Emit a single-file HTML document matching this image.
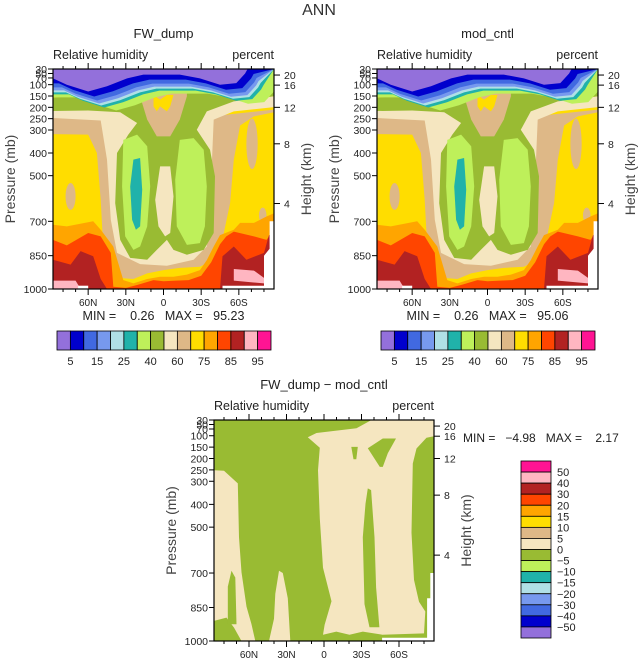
<!DOCTYPE html>
<html><head><meta charset="utf-8"><style>
html,body{margin:0;padding:0;background:#fff;}
svg{display:block;font-family:"Liberation Sans",sans-serif;}
text{white-space:pre;}
</style></head><body>
<svg id="chart" width="638" height="659" viewBox="0 0 638 659" xmlns="http://www.w3.org/2000/svg"></svg>
<script>
// ---- data ----
const pLevels=[30,100,150,200,250,300,400,500,700,850,1000];
const pLabels=[30,50,70,100,150,200,250,300,400,500,700,850,1000];
const latTicks=[60,30,0,-30,-60];
const latTickLabels=['60N','30N','0','30S','60S'];
const heightTicks=[20,16,12,8,4];
const heightTickP=[57,102,200,360,622];
const rhColors=['#9370db','#0000cd','#4169e1','#7799ee','#b0e0e6','#20b2aa','#bef05a','#99bb33','#f5e6c0','#deb887','#ffdd00','#ffa500','#ff4500','#b22222','#ffb6c1','#ff1493'];
const rhLevelLabels=['5','15','25','40','60','75','85','95'];
const diffLevelLabels=['50','40','30','20','15','10','5','0','\u22125','\u221210','\u221215','\u221220','\u221230','\u221240','\u221250'];
const statsTopLeft=[0.26,95.23];
const statsTopRight=[0.26,95.06];
const statsDiff=[-4.98,2.17];
// RH contour regions [lat, p]
const rhTan=[[88,225],[50,210],[13,254],[-13,254],[-88,210],[-88,222],[-72,240],[-61,280],[-56,429],[-53,620],[-48,751],[-40,868],[-29,900],[-13,905],[0,915],[13,930],[24,955],[35,950],[42,900],[48,810],[50,606],[53,400],[60,320],[88,318]];
const rhWheat=[[88,188],[24,196],[-18.6,196],[-88,151],[-88,199],[-56,218],[-40,254],[-37,635],[-34.5,810],[-24,868],[-2.7,895],[18.6,888],[37,838],[42,693],[45,429],[50,258],[88,247]];
const rhOlive=[[88,158],[50,137],[24,115],[18.6,90],[-18.6,90],[-26.5,107],[-56,115],[-88,100],[-88,151],[-56,174],[-34.5,218],[-26.5,299],[-37,386],[-41,503],[-40,751],[-32,825],[-18.6,846],[-8,825],[-2.7,781],[5.3,825],[13,868],[26.5,860],[34.5,781],[38.5,620],[37,400],[28,320],[21,269],[34.5,222],[60,214],[88,216]];
const rhTanCap=[[18.6,90],[-18.6,90],[-18.6,151],[-13,254],[-5.3,328],[5.3,328],[13,254],[18.6,151]];
const rhYellowCap=[[8,145],[2.7,166],[-2.7,145],[-8,145],[-5.3,196],[-2.7,218],[2.7,196],[5.3,218],[8,196]];
const rhWheatColumn=[[2.7,459],[-5.3,459],[-8,591],[-5.3,751],[-1.3,766],[4,722],[6.6,606]];
const rhLightLeft=[[32,343],[21,320],[13,371],[10.6,547],[13,722],[18.6,810],[24,825],[30.5,766],[33,547]];
const rhLightRight=[[-13,343],[-24,335],[-32,386],[-34.5,547],[-33,722],[-29,795],[-18.6,803],[-10.6,722],[-9.3,518]];
const rhTeal=[[24,429],[18.6,422],[17,562],[18.6,722],[22,737],[25,693],[26.5,547]];
const rhTanOvals=[[78,70,532,650],[-66,-75,250,471],[-76,-82,640,707]];
const rhCapCurve=[[88,72],[77,100],[60,130],[45,107],[29,72],[16,55],[-13,55],[-29,72],[-45,100],[-58,93],[-65,50],[-67,30]];
const rhOrange=[[88,715],[77,722],[56,700],[50,737],[40,810],[32,960],[24,975],[13,955],[2.7,945],[-8,945],[-18.6,935],[-29,915],[-34.5,870],[-40,810],[-45,760],[-56,737],[-61,707],[-72,707],[-82,679],[-88,665],[-88,1000],[88,1000]];
const rhOrangeRed=[[88,781],[77,805],[60,751],[50,766],[42,838],[40,990],[30,995],[20,980],[8,960],[0,965],[-10,962],[-20,960],[-30,940],[-38,880],[-45,800],[-50,766],[-56,745],[-72,766],[-82,781],[-88,737],[-88,1000],[88,1000]];
const rhRedLeft=[[88,868],[74,890],[66,830],[56,853],[50,955],[45,1000],[88,1000]];
const rhRedRight=[[-45,1000],[-47,853],[-56,810],[-66,868],[-80,838],[-84,760],[-88,760],[-88,1000]];
const rhPinkLeft=[[88,962],[70,962],[66,1000],[88,1000]];
const rhPinkRight=[[-56,910],[-72,917],[-80,950],[-80,975],[-56,962]];
const rhMissing=[[-84.5,700],[-88,700],[-88,1000],[-47,1000],[-47,985],[-80,985],[-80,850],[-84.5,820]];
const rhMissingLeft=[[68,985],[60,985],[60,1000],[68,1000]];
// difference regions
const dfWheatLeft=[[88,252],[80,254],[69,309],[68,544],[66,697],[62,846],[58,925],[55,1000],[88,1000]];
const dfOliveLeftBottom=[[88,910],[78,895],[72,940],[66,1000],[88,1000]];
const dfOliveLeftStrip=[[74,690],[71,720],[70,925],[77,925],[77,760]];
const dfWheatMid=[[36,690],[33,700],[29,810],[27,1000],[44,1000],[40,900],[39,790]];
const dfWheatBig=[[13,107],[6,88],[-26,67],[-38,30],[-88,30],[-88,102],[-82,109],[-74,156],[-71,222],[-70,524],[-72,730],[-76,825],[-81,868],[-80,966],[-46.5,972],[-31,958],[-20.4,972],[-9.8,958],[0.8,972],[-0.5,928],[-6,823],[0.8,677],[3.4,462],[4.8,252],[3.4,153]];
const dfOliveA=[[-35,155],[-47,112],[-57.6,112],[-51,177],[-47,237],[-44.6,237]];
const dfOliveB=[[-21.8,149],[-27,149],[-25.8,203],[-23.6,203]];
const dfOliveC=[[-35,331],[-37.7,338],[-40.4,544],[-41.7,763],[-44.3,938],[-36.4,938],[-32.4,835],[-31,544],[-33.2,397]];
const dfMissing=[[-82.5,810],[-85,810],[-85,700],[-88,700],[-88,1000],[-46.5,1000],[-46.5,985],[-82.5,985]];

// ---- helpers ----
const svg=document.getElementById('chart');
const NS='http://www.w3.org/2000/svg';
function mk(tag,attrs,parent){const e=document.createElementNS(NS,tag);for(const k in attrs)e.setAttribute(k,attrs[k]);(parent||svg).appendChild(e);return e;}
const pZ=[148,195,229,263,297,331,400,468,605,708,808];
function pFrac(p){
  if(p<=pLevels[0])return 0;
  for(let i=1;i<pLevels.length;i++){if(p<=pLevels[i]){const t=(p-pLevels[i-1])/(pLevels[i]-pLevels[i-1]);return (pZ[i-1]+t*(pZ[i]-pZ[i-1])-148)/660;}}
  return 1;
}
function makeAxes(P){return {x:lat=>P.x0+(88-lat)/176*P.w,y:p=>P.y0+pFrac(p)*P.h};}
function poly(g,A,pts,fill,name){
  const d=pts.map(q=>A.x(q[0]).toFixed(1)+','+A.y(q[1]).toFixed(1)).join(' ');
  const e=mk('polygon',{points:d,fill:fill},g);
  
  
  return e;
}
function txt(x,y,s,size,anchor,name,extra){
  const e=mk('text',Object.assign({x:x,y:y,'font-size':size,'text-anchor':anchor||'start',fill:'#222'},extra||{}));
  e.textContent=s;
  
  
  return e;
}

function drawFrame(P,A,title,g){
  txt(P.x0+P.w/2,P.y0-31,title,13,'middle','panel-title');
  txt(P.x0,P.y0-10,'Relative humidity',12.5,'start','variable-label');
  txt(P.x0+P.w,P.y0-10,'percent',12.5,'end','units-label');
  const f=mk('rect',{x:P.x0,y:P.y0,width:P.w,height:P.h,fill:'none',stroke:'#000','stroke-width':1.2});
  
  
  for(let lat=80;lat>=-80;lat-=10){
    const x=A.x(lat),major=lat%30===0;
    const L=major?6:3;
    const t1=mk('line',{x1:x,x2:x,y1:P.y0,y2:P.y0-L,stroke:'#000'});
    
    
    const t2=mk('line',{x1:x,x2:x,y1:P.y0+P.h,y2:P.y0+P.h+L,stroke:'#000'});
    
    
  }
  latTicks.forEach((lat,i)=>{txt(A.x(lat),P.y0+P.h+17,latTickLabels[i],10,'middle','x-tick-label');});
  pLabels.forEach(p=>{
    const y=A.y(p);
    const t=mk('line',{x1:P.x0-5,x2:P.x0,y1:y,y2:y,stroke:'#000'});
    
    
    txt(P.x0-6,y+4,String(p),10.5,'end','y-tick-label');
  });
  heightTicks.forEach((h,i)=>{
    const y=A.y(heightTickP[i]);
    const t=mk('line',{x1:P.x0+P.w,x2:P.x0+P.w+6,y1:y,y2:y,stroke:'#000'});
    
    
    txt(P.x0+P.w+10,y+4,String(h),10.5,'start','height-tick-label');
  });
  const cy=P.y0+P.h/2;
  txt(P.x0-38,cy,'Pressure (mb)',14,'middle','y-axis-title',{transform:'rotate(-90 '+(P.x0-38)+' '+cy+')',fill:'#444'});
  txt(P.x0+P.w+37,cy,'Height (km)',14,'middle','y2-axis-title',{transform:'rotate(-90 '+(P.x0+P.w+37)+' '+cy+')',fill:'#444'});
}

function drawRH(P,title,stats){
  const A=makeAxes(P);
  const g=mk('g',{});
  
  
  const clipId='c'+Math.round(P.x0);
  const cp=mk('clipPath',{id:clipId},g);
  mk('rect',{x:P.x0,y:P.y0,width:P.w,height:P.h},cp);
  g.setAttribute('clip-path','url(#'+clipId+')');
  const bg=mk('rect',{x:P.x0,y:P.y0,width:P.w,height:P.h,fill:rhColors[10]},g);
  
  
  poly(g,A,rhTan,rhColors[9],'rh-60-70');
  rhTanOvals.forEach(o=>{
    const e=mk('ellipse',{cx:(A.x(o[0])+A.x(o[1]))/2,cy:(A.y(o[2])+A.y(o[3]))/2,rx:Math.abs(A.x(o[0])-A.x(o[1]))/2,ry:Math.abs(A.y(o[2])-A.y(o[3]))/2,fill:rhColors[9]},g);
    
    
  });
  poly(g,A,rhWheat,rhColors[8],'rh-50-60');
  poly(g,A,rhOlive,rhColors[7],'rh-40-50');
  poly(g,A,rhTanCap,rhColors[9],'rh-60-70-cap');
  poly(g,A,rhYellowCap,rhColors[10],'rh-70-75-cap');
  poly(g,A,rhWheatColumn,rhColors[8],'rh-50-60-column');
  poly(g,A,rhLightLeft,rhColors[6],'rh-30-40-north');
  poly(g,A,rhLightRight,rhColors[6],'rh-30-40-south');
  poly(g,A,rhTeal,rhColors[5],'rh-25-30');
  poly(g,A,rhOrange,rhColors[11],'rh-75-80');
  poly(g,A,rhOrangeRed,rhColors[12],'rh-80-85');
  poly(g,A,rhRedLeft,rhColors[13],'rh-85-90-north');
  poly(g,A,rhRedRight,rhColors[13],'rh-85-90-south');
  poly(g,A,rhPinkLeft,rhColors[14],'rh-90-95-north');
  poly(g,A,rhPinkRight,rhColors[14],'rh-90-95-south');
  const bands=[[6,28,19],[5,16,16],[4,13,14],[3,11,12],[2,9,9],[1,6,5],[0,0,0]];
  bands.forEach(b=>{
    const pts=rhCapCurve.map(q=>(A.x(q[0])+b[1]).toFixed(1)+','+(A.y(q[1])+b[2]).toFixed(1));
    const first=A.y(rhCapCurve[0][1])+b[2];
    const d=P.x0+','+P.y0+' '+P.x0+','+first.toFixed(1)+' '+pts.join(' ')+' '+(P.x0+P.w)+','+P.y0;
    const e=mk('polygon',{points:d,fill:rhColors[b[0]]},g);
    
    
  });
  poly(g,A,rhMissing,'#ffffff','missing-data');
  poly(g,A,rhMissingLeft,'#ffffff','missing-data');
  drawFrame(P,A,title,g);
  txt(P.x0+P.w/2,P.y0+P.h+31,'MIN =    '+stats[0].toFixed(2)+'   MAX =   '+stats[1].toFixed(2),12.5,'middle','min-max-label');
  const cbx=P.x0+4,cby=331,cbw=214,cbh=19,bw=cbw/16;
  rhColors.forEach((c,i)=>{
    const r=mk('rect',{x:cbx+i*bw,y:cby,width:bw,height:cbh,fill:c,stroke:'#000','stroke-width':0.8});
    
    
  });
  rhLevelLabels.forEach((s,i)=>{txt(cbx+(2*i+1)*bw,cby+cbh+15,s,11,'middle','colorbar-label');});
}

function drawDiff(P){
  const A=makeAxes(P);
  const g=mk('g',{});
  
  
  const cp=mk('clipPath',{id:'cdiff'},g);
  mk('rect',{x:P.x0,y:P.y0,width:P.w,height:P.h},cp);
  g.setAttribute('clip-path','url(#cdiff)');
  const bg=mk('rect',{x:P.x0,y:P.y0,width:P.w,height:P.h,fill:rhColors[7]},g);
  
  
  poly(g,A,dfWheatLeft,rhColors[8],'diff-0-5-north');
  poly(g,A,dfOliveLeftBottom,rhColors[7],'diff-neg-bottom');
  poly(g,A,dfOliveLeftStrip,rhColors[7],'diff-neg-strip');
  poly(g,A,dfWheatMid,rhColors[8],'diff-0-5-mid');
  poly(g,A,dfWheatBig,rhColors[8],'diff-0-5-south');
  poly(g,A,dfOliveA,rhColors[7],'diff-neg-a');
  poly(g,A,dfOliveB,rhColors[7],'diff-neg-b');
  poly(g,A,dfOliveC,rhColors[7],'diff-neg-c');
  poly(g,A,dfMissing,'#ffffff','missing-data');
  drawFrame(P,A,'FW_dump \u2212 mod_cntl',g);
  txt(463,442,'MIN =   '+statsDiff[0].toFixed(2).replace('-','\u2212')+'   MAX =    '+statsDiff[1].toFixed(2),12,'start','min-max-label');
  const cbx=521,cby=461,cbw=30,cbh=177,bh=cbh/16;
  for(let i=0;i<16;i++){
    const r=mk('rect',{x:cbx,y:cby+i*bh,width:cbw,height:bh,fill:rhColors[15-i],stroke:'#000','stroke-width':0.8});
    
    
  }
  diffLevelLabels.forEach((s,i)=>{txt(cbx+cbw+6,cby+(i+1)*bh+4,s,11,'start','colorbar-label');});
}

txt(319,15,'ANN',16,'middle','figure-title',{fill:'#333'});
drawRH({x0:53,y0:69,w:221,h:220},'FW_dump',statsTopLeft);
drawRH({x0:377,y0:69,w:221,h:220},'mod_cntl',statsTopRight);
drawDiff({x0:214,y0:420,w:220,h:221});
</script>
</body></html>
